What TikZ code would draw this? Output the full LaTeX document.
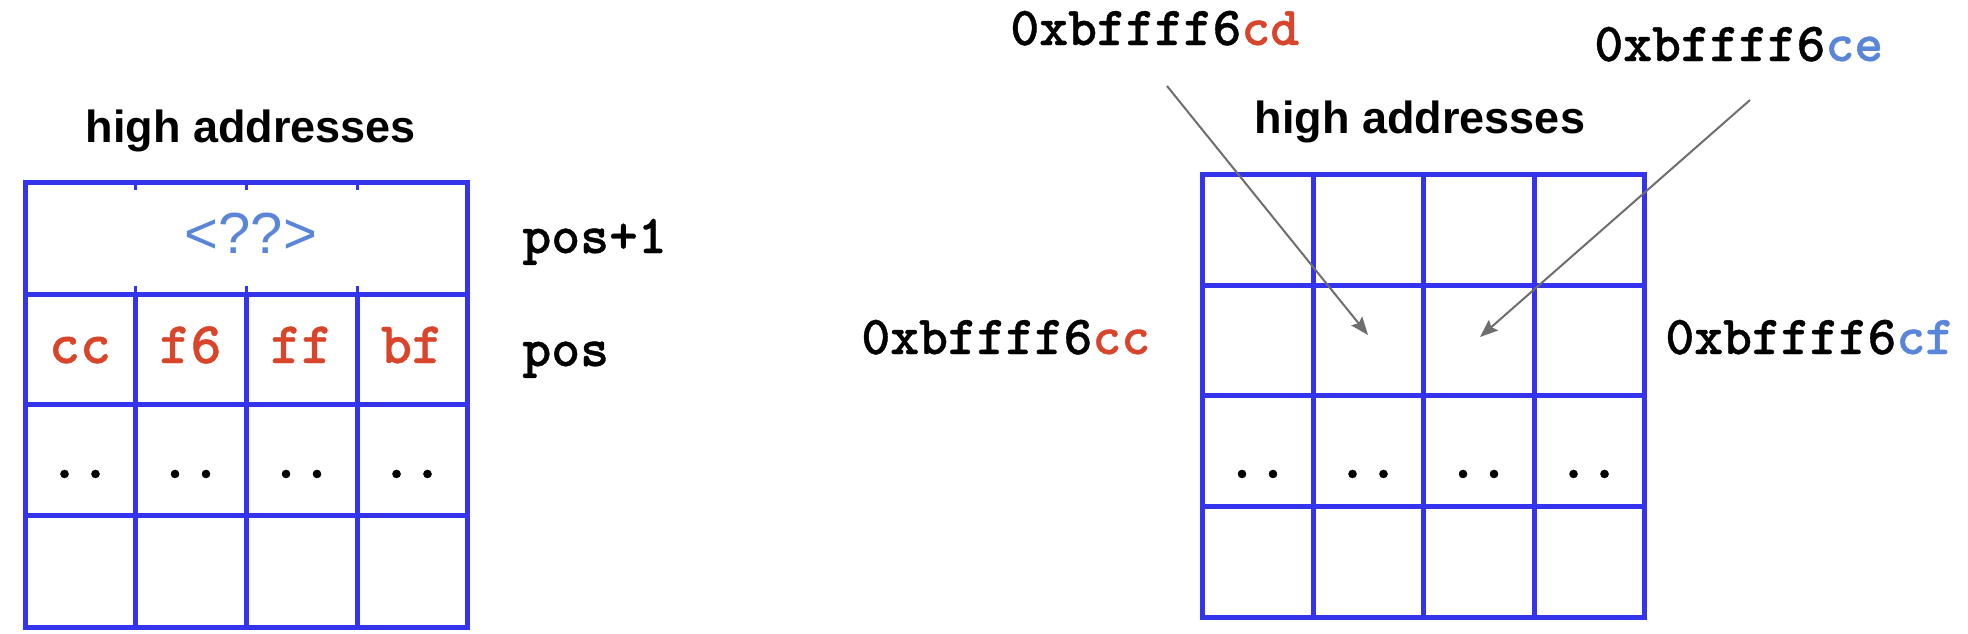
\documentclass[tikz,border=0pt]{standalone}
\usepackage{fontspec}
\setmainfont{Liberation Sans}
\newfontfamily\monof{lmmonolt10-bold}[Extension=.otf,FakeBold=0.7]
\usetikzlibrary{arrows.meta}
\definecolor{gridblue}{HTML}{3434EE}
\definecolor{hexred}{HTML}{D9452B}
\definecolor{qblue}{HTML}{5A86DA}
\definecolor{arrgray}{HTML}{6E6E6E}
\begin{document}
\begin{tikzpicture}[x=0.5pt,y=-0.5pt,
  gridline/.style={draw=gridblue,line width=2.5pt},
  tickline/.style={draw=gridblue,line width=1.5pt},
  headtxt/.style={anchor=base,inner sep=0pt,font=\fontsize{22.5}{26}\selectfont\bfseries},
  celltxt/.style={anchor=base,inner sep=0pt,font=\fontsize{29.5}{32}\selectfont\monof,text=hexred},
  dottxt/.style={anchor=base,inner sep=0pt,font=\fontsize{29.5}{32}\selectfont\monof},
  rowlbl/.style={anchor=base west,inner sep=0pt,font=\fontsize{27.5}{30}\selectfont\monof},
  addrlbl/.style={anchor=base west,inner sep=0pt,font=\fontsize{27.5}{30}\selectfont\monof},
  ptr/.style={draw=arrgray,line width=1pt,-{Stealth[length=9pt,width=7pt,inset=1.5pt]}}]
\useasboundingbox (0,0) rectangle (1968,633);
\fill[white] (0,0) rectangle (1968,633);

% ---------- left grid ----------
\draw[gridline] (25,182) rectangle (467,627);
\foreach \y in {294,404,515} \draw[gridline] (25,\y) -- (467,\y);
\foreach \x in {135,246,357} \draw[gridline] (\x,294) -- (\x,627);
\foreach \x in {135,246,357} {
  \draw[tickline] (\x,180) -- (\x,190);
  \draw[tickline] (\x,286) -- (\x,294);
}
\node[headtxt] (hiL) at (251,142) {high addresses};
\node[anchor=base,inner sep=0pt,font=\fontsize{29}{32}\selectfont,text=qblue] (unk) at (251,253) {<??>};
\node[celltxt] (c1) at (80,363) {cc};
\node[celltxt] (c2) at (190.5,363) {f6};
\node[celltxt] (c3) at (301.5,363) {ff};
\node[celltxt] (c4) at (412,363) {bf};
\node[dottxt] (d1) at (80,478) {..};
\node[dottxt] (d2) at (190.5,478) {..};
\node[dottxt] (d3) at (301.5,478) {..};
\node[dottxt] (d4) at (412,478) {..};
\node[rowlbl] (posA) at (522,253) {pos+1};
\node[rowlbl] (posB) at (522,366) {pos};

% ---------- right grid ----------
\draw[gridline] (1202,174) rectangle (1644,617);
\foreach \y in {285,395,506} \draw[gridline] (1202,\y) -- (1644,\y);
\foreach \x in {1313,1423,1534} \draw[gridline] (\x,174) -- (\x,617);
\node[headtxt] (hiR) at (1420,133) {high addresses};
\node[dottxt] (e1) at (1257.5,478) {..};
\node[dottxt] (e2) at (1368,478) {..};
\node[dottxt] (e3) at (1478.5,478) {..};
\node[dottxt] (e4) at (1589,478) {..};

\node[addrlbl] (acd) at (1010,45) {0xbffff6\textcolor{hexred}{cd}};
\node[addrlbl] (ace) at (1594,61) {0xbffff6\textcolor{qblue}{ce}};
\node[addrlbl] (acc) at (861,354) {0xbffff6\textcolor{hexred}{cc}};
\node[addrlbl] (acf) at (1665,354) {0xbffff6\textcolor{qblue}{cf}};

\coordinate (s1) at (1167,86);
\coordinate (t1) at (1368,335);
\coordinate (s2) at (1750,100);
\coordinate (t2) at (1480,337);
\draw[ptr] (s1) -- (t1);
\draw[ptr] (s2) -- (t2);
\end{tikzpicture}
\end{document}
